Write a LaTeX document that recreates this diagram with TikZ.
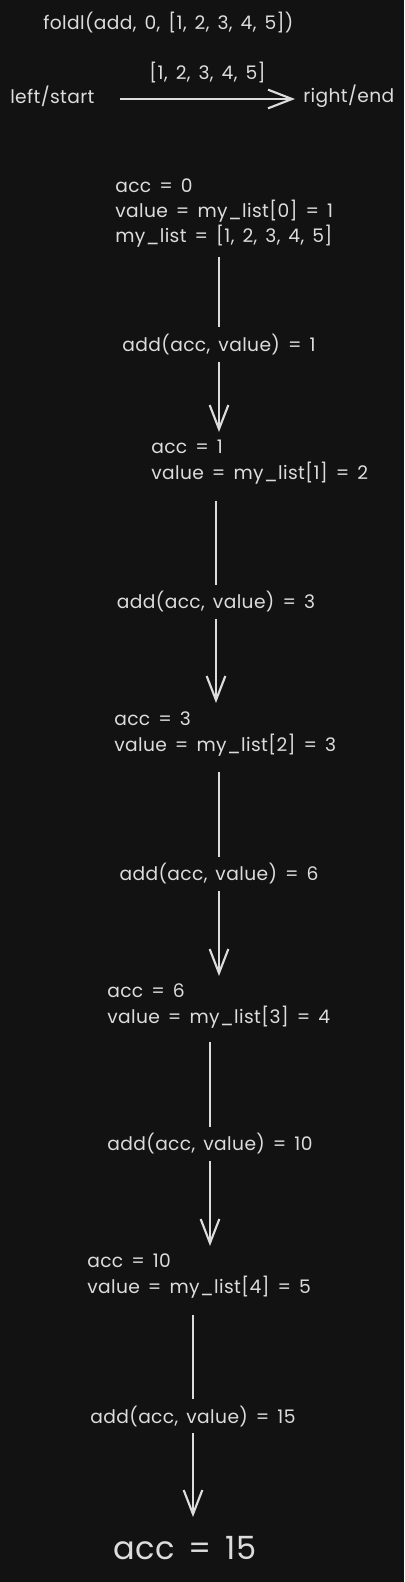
\documentclass[tikz,border=0pt]{standalone}
\usepackage{fontspec}
\setmainfont{Poppins}[LetterSpace=2, WordSpace=1.5]
\usetikzlibrary{arrows.meta}
\definecolor{bg}{HTML}{121212}
\definecolor{ink}{HTML}{DCDCDC}
\begin{document}
\begin{tikzpicture}[x=0.75pt, y=-0.75pt,
    txt/.style={text=ink, font=\fontsize{14}{19}\selectfont, inner sep=0pt, anchor=west, align=left},
    flow/.style={draw=ink, line width=1.6pt, -{Straight Barb[length=18pt, width=14pt, line width=1.6pt]}},
    steplabel/.style={txt, anchor=center, fill=bg, inner ysep=5pt, inner xsep=2pt}]
   \fill[bg] (0, 0) rectangle (404, 1582);
   \useasboundingbox (0, 0) rectangle (404, 1582);
   % heading
   \node[txt] (title) at (43, 23) {foldl(add, 0, [1, 2, 3, 4, 5])};
   \node[txt] (lstart) at (10, 96) {left/start};
   \node[txt] (rend) at (303, 96) {right/end};
   \coordinate (lfrom) at (120, 99);
   \coordinate (rto) at (295, 99);
   \draw[flow] (lfrom) -- node[txt, anchor=center, yshift=19.5pt] (lst) {[1, 2, 3, 4, 5]} (rto);
   % steps
   \node[txt] (s0) at (115, 213) {acc = 0\\value = my\_list[0] = 1\\my\_list = [1, 2, 3, 4, 5]};
   \node[txt] (s1) at (151, 462) {acc = 1\\value = my\_list[1] = 2};
   \node[txt] (s2) at (114, 734) {acc = 3\\value = my\_list[2] = 3};
   \node[txt] (s3) at (107, 1006) {acc = 6\\value = my\_list[3] = 4};
   \node[txt] (s4) at (87, 1276) {acc = 10\\value = my\_list[4] = 5};
   \node[txt, font=\fontsize{24}{30}\selectfont, anchor=center] (res) at (185, 1548) {acc = 15};
   % arrows
   \coordinate (t0) at (219, 257);
   \coordinate (b0) at (219, 432);
   \coordinate (t1) at (216, 501);
   \coordinate (b1) at (216, 703);
   \coordinate (t2) at (219, 772);
   \coordinate (b2) at (219, 976);
   \coordinate (t3) at (210, 1042);
   \coordinate (b3) at (210, 1246);
   \coordinate (t4) at (193, 1315);
   \coordinate (b4) at (193, 1517);
   \draw[flow] (t0) -- node[steplabel] (f0) {add(acc, value) = 1} (b0);
   \draw[flow] (t1) -- node[steplabel] (f1) {add(acc, value) = 3} (b1);
   \draw[flow] (t2) -- node[steplabel] (f2) {add(acc, value) = 6} (b2);
   \draw[flow] (t3) -- node[steplabel] (f3) {add(acc, value) = 10} (b3);
   \draw[flow] (t4) -- node[steplabel] (f4) {add(acc, value) = 15} (b4);
\end{tikzpicture}
\end{document}
